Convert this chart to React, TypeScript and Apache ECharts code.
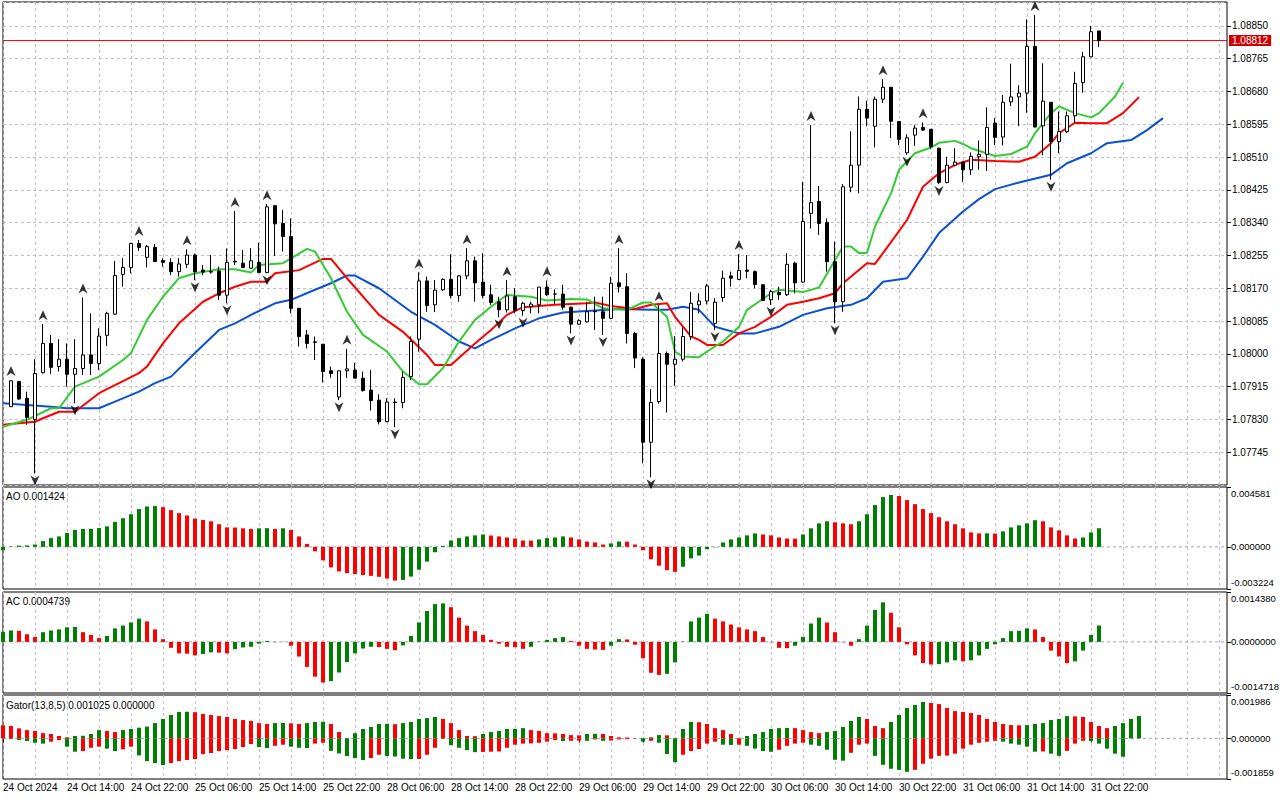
import React, { useEffect, useRef } from 'react';
import * as echarts from 'echarts';

// ---------- categories (hourly bars, weekend skipped) ----------
const DAYS = ['24 Oct', '25 Oct', '28 Oct', '29 Oct', '30 Oct', '31 Oct', '01 Nov'];
const FIRST_HOUR = 6;
const N_CAT = 154;
const LAST_BAR = 137; // 31 Oct 23:00
const FIRST_LABEL = '24 Oct 2024';

// ---------- price candles [open, high, low, close], from 24 Oct 07:00 ----------
const candles: number[][] = [
  [1.07863, 1.07932, 1.07862, 1.07930], [1.07928, 1.07930, 1.07880, 1.07883], [1.07885, 1.07902, 1.07816, 1.07835],
  [1.07830, 1.07986, 1.07690, 1.07949], [1.07951, 1.08077, 1.07949, 1.08027], [1.08027, 1.08049, 1.07948, 1.07965],
  [1.07967, 1.08038, 1.07954, 1.07986], [1.07986, 1.08027, 1.07915, 1.07947], [1.07947, 1.08038, 1.07872, 1.07962],
  [1.07962, 1.08146, 1.07945, 1.07997], [1.07997, 1.08105, 1.07945, 1.07975], [1.07975, 1.08066, 1.07958, 1.08046],
  [1.08048, 1.08109, 1.08020, 1.08105], [1.08103, 1.08241, 1.08101, 1.08203], [1.08206, 1.08248, 1.08174, 1.08224],
  [1.08224, 1.08288, 1.08209, 1.08286], [1.08286, 1.08295, 1.08267, 1.08276], [1.08250, 1.08282, 1.08224, 1.08278],
  [1.08276, 1.08285, 1.08239, 1.08239], [1.08242, 1.08248, 1.08226, 1.08237], [1.08237, 1.08248, 1.08204, 1.08213],
  [1.08213, 1.08248, 1.08200, 1.08233], [1.08232, 1.08271, 1.08222, 1.08256], [1.08256, 1.08260, 1.08191, 1.08213],
  [1.08217, 1.08230, 1.08204, 1.08212], [1.08213, 1.08256, 1.08208, 1.08212], [1.08215, 1.08226, 1.08140, 1.08152],
  [1.08152, 1.08273, 1.08131, 1.08237], [1.08240, 1.08370, 1.08230, 1.08238], [1.08235, 1.08269, 1.08222, 1.08224],
  [1.08222, 1.08274, 1.08220, 1.08241], [1.08237, 1.08288, 1.08209, 1.08211], [1.08211, 1.08388, 1.08209, 1.08381],
  [1.08384, 1.08384, 1.08254, 1.08337], [1.08338, 1.08373, 1.08265, 1.08304], [1.08304, 1.08351, 1.08105, 1.08118],
  [1.08118, 1.08118, 1.08019, 1.08045], [1.08049, 1.08062, 1.08014, 1.08027], [1.08031, 1.08045, 1.07984, 1.08030],
  [1.08025, 1.08025, 1.07926, 1.07954], [1.07956, 1.07967, 1.07938, 1.07949], [1.07888, 1.07956, 1.07880, 1.07956],
  [1.07956, 1.08013, 1.07937, 1.07961], [1.07958, 1.07976, 1.07937, 1.07937], [1.07937, 1.07954, 1.07902, 1.07905],
  [1.07906, 1.07958, 1.07853, 1.07879], [1.07880, 1.07895, 1.07817, 1.07824], [1.07824, 1.07885, 1.07823, 1.07875],
  [1.07875, 1.07885, 1.07810, 1.07874], [1.07874, 1.07954, 1.07859, 1.07939], [1.07941, 1.08045, 1.07932, 1.08032],
  [1.08038, 1.08211, 1.08006, 1.08189], [1.08189, 1.08200, 1.08109, 1.08125], [1.08127, 1.08191, 1.08108, 1.08165],
  [1.08166, 1.08196, 1.08163, 1.08193], [1.08193, 1.08258, 1.08144, 1.08151], [1.08151, 1.08204, 1.08135, 1.08202],
  [1.08202, 1.08274, 1.08193, 1.08241], [1.08241, 1.08252, 1.08135, 1.08184], [1.08186, 1.08261, 1.08144, 1.08151],
  [1.08153, 1.08179, 1.08127, 1.08133], [1.08135, 1.08148, 1.08095, 1.08114], [1.08114, 1.08191, 1.08107, 1.08150],
  [1.08148, 1.08170, 1.08105, 1.08112], [1.08112, 1.08135, 1.08099, 1.08131], [1.08122, 1.08135, 1.08105, 1.08129],
  [1.08127, 1.08173, 1.08105, 1.08173], [1.08173, 1.08190, 1.08150, 1.08153], [1.08155, 1.08167, 1.08129, 1.08155],
  [1.08155, 1.08179, 1.08114, 1.08121], [1.08121, 1.08122, 1.08053, 1.08077], [1.08077, 1.08090, 1.08075, 1.08086],
  [1.08083, 1.08135, 1.08081, 1.08109], [1.08110, 1.08148, 1.08062, 1.08109], [1.08109, 1.08148, 1.08049, 1.08092],
  [1.08092, 1.08200, 1.08090, 1.08183], [1.08184, 1.08274, 1.08159, 1.08174], [1.08174, 1.08209, 1.08027, 1.08053],
  [1.08053, 1.08057, 1.07963, 1.07989], [1.07986, 1.07991, 1.07716, 1.07771], [1.07771, 1.07908, 1.07680, 1.07874],
  [1.07876, 1.08126, 1.07871, 1.08001], [1.08001, 1.08006, 1.07848, 1.07973], [1.07973, 1.08046, 1.07917, 1.07986],
  [1.07986, 1.08070, 1.07980, 1.08045], [1.08045, 1.08160, 1.08036, 1.08131], [1.08127, 1.08157, 1.08105, 1.08137],
  [1.08137, 1.08181, 1.08128, 1.08176], [1.08079, 1.08144, 1.08062, 1.08134], [1.08146, 1.08216, 1.08135, 1.08196],
  [1.08202, 1.08213, 1.08174, 1.08196], [1.08193, 1.08259, 1.08191, 1.08216], [1.08217, 1.08256, 1.08196, 1.08214],
  [1.08213, 1.08216, 1.08170, 1.08180], [1.08179, 1.08181, 1.08138, 1.08138], [1.08140, 1.08166, 1.08127, 1.08161],
  [1.08159, 1.08174, 1.08140, 1.08153], [1.08153, 1.08261, 1.08150, 1.08232], [1.08235, 1.08239, 1.08157, 1.08184],
  [1.08186, 1.08446, 1.08184, 1.08343], [1.08364, 1.08593, 1.08325, 1.08392], [1.08395, 1.08435, 1.08308, 1.08338],
  [1.08341, 1.08351, 1.08213, 1.08239], [1.08239, 1.08291, 1.08079, 1.08135], [1.08135, 1.08440, 1.08109, 1.08433],
  [1.08432, 1.08577, 1.08419, 1.08489], [1.08489, 1.08667, 1.08416, 1.08634], [1.08634, 1.08656, 1.08590, 1.08611],
  [1.08590, 1.08667, 1.08535, 1.08660], [1.08660, 1.08712, 1.08650, 1.08691], [1.08691, 1.08691, 1.08559, 1.08603],
  [1.08602, 1.08602, 1.08541, 1.08556], [1.08521, 1.08569, 1.08516, 1.08560], [1.08567, 1.08593, 1.08539, 1.08585],
  [1.08587, 1.08600, 1.08578, 1.08580], [1.08582, 1.08582, 1.08532, 1.08537], [1.08533, 1.08535, 1.08440, 1.08444],
  [1.08444, 1.08511, 1.08442, 1.08489], [1.08489, 1.08533, 1.08486, 1.08497], [1.08497, 1.08498, 1.08446, 1.08477],
  [1.08477, 1.08522, 1.08464, 1.08512], [1.08511, 1.08553, 1.08477, 1.08517], [1.08517, 1.08639, 1.08474, 1.08587],
  [1.08598, 1.08611, 1.08541, 1.08561], [1.08562, 1.08671, 1.08540, 1.08652], [1.08653, 1.08752, 1.08642, 1.08666],
  [1.08666, 1.08696, 1.08590, 1.08676], [1.08676, 1.08867, 1.08625, 1.08797], [1.08797, 1.08878, 1.08587, 1.08588],
  [1.08591, 1.08753, 1.08515, 1.08655], [1.08652, 1.08652, 1.08451, 1.08550], [1.08550, 1.08628, 1.08520, 1.08576],
  [1.08576, 1.08628, 1.08572, 1.08617], [1.08617, 1.08731, 1.08598, 1.08701], [1.08703, 1.08783, 1.08677, 1.08770],
  [1.08770, 1.08850, 1.08769, 1.08835], [1.08837, 1.08837, 1.08795, 1.08812],
];
const CURRENT_PRICE = 1.08812;

// fractal bars (indices into candles)
const fractalUp = [0, 4, 9, 16, 22, 28, 32, 42, 51, 57, 62, 67, 76, 81, 91, 100, 109, 114, 128];
const fractalDown = [3, 8, 23, 27, 32, 41, 48, 61, 64, 70, 74, 80, 88, 95, 103, 112, 116, 130];

// Alligator lines [category index, price]
const lips = [
  [0, 1.07811], [3, 1.07829], [6, 1.07859], [7, 1.07859], [9, 1.07915], [12, 1.07941], [15, 1.07984], [16, 1.08002],
  [18, 1.08088], [20, 1.08148], [22, 1.08196], [24, 1.08209], [27, 1.08219], [29, 1.08219], [31, 1.08211], [32, 1.08230],
  [35, 1.08235], [38, 1.08272], [39, 1.08265], [41, 1.08196], [43, 1.08109], [45, 1.08049], [48, 1.08006], [50, 1.07954],
  [52, 1.07921], [53, 1.07921], [55, 1.07963], [57, 1.08032], [59, 1.08088], [61, 1.08122], [63, 1.08153], [66, 1.08148],
  [68, 1.08138], [71, 1.08142], [73, 1.08141], [75, 1.08118], [78, 1.08114], [80, 1.08133], [81, 1.08133], [83, 1.08096],
  [84, 1.08006], [85, 1.07993], [87, 1.07991], [88, 1.08006], [90, 1.08032], [92, 1.08070], [93, 1.08114], [96, 1.08157],
  [97, 1.08166], [100, 1.08160], [102, 1.08172], [104, 1.08243], [105, 1.08278], [106, 1.08278], [107, 1.08261], [108, 1.08262],
  [109, 1.08330], [111, 1.08416], [112, 1.08477], [114, 1.08520], [116, 1.08535], [117, 1.08547], [119, 1.08552], [120, 1.08544],
  [121, 1.08533], [124, 1.08513], [126, 1.08518], [128, 1.08537], [129, 1.08572], [131, 1.08624], [132, 1.08641], [134, 1.08624],
  [136, 1.08613], [137, 1.08624], [139, 1.08667], [140, 1.08703],
];
const teeth = [
  [0, 1.07816], [4, 1.07824], [5, 1.07833], [7, 1.07850], [9, 1.07850], [12, 1.07898], [14, 1.07919], [17, 1.07950],
  [18, 1.07967], [20, 1.08027], [22, 1.08079], [25, 1.08135], [27, 1.08157], [29, 1.08174], [31, 1.08187], [33, 1.08187],
  [34, 1.08209], [37, 1.08217], [40, 1.08246], [41, 1.08246], [43, 1.08196], [47, 1.08101], [50, 1.08057], [53, 1.07997],
  [54, 1.07971], [56, 1.07971], [59, 1.08027], [61, 1.08062], [63, 1.08101], [65, 1.08121], [69, 1.08127], [73, 1.08131],
  [74, 1.08133], [76, 1.08124], [79, 1.08116], [81, 1.08127], [83, 1.08131], [84, 1.08096], [86, 1.08045], [87, 1.08036],
  [88, 1.08023], [90, 1.08023], [92, 1.08053], [94, 1.08070], [96, 1.08096], [98, 1.08127], [100, 1.08135], [102, 1.08144],
  [104, 1.08157], [105, 1.08183], [108, 1.08235], [109, 1.08233], [110, 1.08261], [113, 1.08347], [115, 1.08433], [117, 1.08468],
  [119, 1.08490], [121, 1.08503], [124, 1.08500], [127, 1.08498], [129, 1.08511], [131, 1.08546], [132, 1.08572], [134, 1.08599],
  [136, 1.08598], [138, 1.08598], [140, 1.08624], [142, 1.08665],
];
const jaw = [
  [0, 1.07872], [6, 1.07863], [8, 1.07859], [12, 1.07859], [14, 1.07876], [17, 1.07902], [19, 1.07924], [21, 1.07941],
  [24, 1.08002], [27, 1.08062], [29, 1.08079], [31, 1.08101], [34, 1.08131], [36, 1.08140], [39, 1.08166], [41, 1.08183],
  [43, 1.08203], [44, 1.08203], [47, 1.08170], [51, 1.08109], [54, 1.08075], [57, 1.08032], [59, 1.08014], [61, 1.08036],
  [64, 1.08066], [67, 1.08092], [70, 1.08107], [73, 1.08111], [77, 1.08116], [81, 1.08114], [83, 1.08114], [85, 1.08122],
  [87, 1.08114], [89, 1.08070], [92, 1.08053], [94, 1.08053], [97, 1.08070], [100, 1.08101], [103, 1.08118], [106, 1.08127],
  [108, 1.08144], [110, 1.08187], [113, 1.08196], [115, 1.08252], [117, 1.08313], [120, 1.08369], [122, 1.08401], [124, 1.08427],
  [127, 1.08444], [131, 1.08464], [133, 1.08494], [136, 1.08520], [138, 1.08546], [141, 1.08554], [143, 1.08580], [145, 1.08611],
];

// Awesome Oscillator (from category 0)
const ao = [
  -0.00026, 0.00003, 0.0001, 0.00011, 0.00018, 0.00044, 0.00067, 0.0008, 0.00106, 0.00129,
  0.00137, 0.00138, 0.00144, 0.00157, 0.00191, 0.00219, 0.0025, 0.00289, 0.00309, 0.00312,
  0.00304, 0.00281, 0.00258, 0.0024, 0.00216, 0.00206, 0.00196, 0.00173, 0.00149, 0.00148,
  0.00142, 0.00137, 0.00142, 0.00143, 0.00137, 0.00142, 0.00129, 0.0008, 0.00023, -0.00034,
  -0.00103, -0.00157, -0.00188, -0.00201, -0.00209, -0.00216, -0.00222, -0.00229, -0.00242, -0.00258,
  -0.00253, -0.00227, -0.00175, -0.00113, -0.00041, 0.00008, 0.00049, 0.00067, 0.0008, 0.00088,
  0.00095, 0.00087, 0.0008, 0.00072, 0.00064, 0.00049, 0.00048, 0.00057, 0.00067, 0.00072,
  0.0008, 0.00072, 0.00057, 0.00041, 0.00034, 0.00018, 0.00026, 0.00041, 0.0004, 0.00018,
  -0.00026, -0.00095, -0.00144, -0.00178, -0.00191, -0.00152, -0.00088, -0.00067, -0.00018, -0.00003,
  0.00034, 0.00057, 0.00072, 0.00088, 0.00103, 0.00095, 0.00088, 0.00072, 0.00064, 0.00063,
  0.00095, 0.00142, 0.0018, 0.00196, 0.00188, 0.0018, 0.00173, 0.00196, 0.0025, 0.0032,
  0.00381, 0.00397, 0.00389, 0.00358, 0.00327, 0.00289, 0.00258, 0.00227, 0.00196, 0.00173,
  0.00142, 0.00111, 0.00103, 0.00104, 0.00102, 0.00119, 0.00149, 0.00165, 0.0018, 0.00204,
  0.00196, 0.00149, 0.00126, 0.00088, 0.00064, 0.00072, 0.00111, 0.001424,
];

// Accelerator Oscillator (from category 0)
const ac = [
  0.00029, 0.00033, 0.00032, 0.00022, 0.00014, 0.00028, 0.00033, 0.00036, 0.00042, 0.00043,
  0.00028, 0.0002, 0.00011, 0.00017, 0.00039, 0.00047, 0.00056, 0.00067, 0.00059, 0.00036,
  0.00008, -0.00017, -0.00033, -0.00034, -0.00039, -0.00035, -0.0003, -0.00031, -0.00033, -0.00021,
  -0.00016, -0.00014, -0.00005, 0.00003, -0.00001, 0.000005, -0.00011, -0.00042, -0.00072, -0.001,
  -0.00117, -0.00113, -0.00088, -0.00058, -0.00033, -0.00019, -0.00014, -0.00015, -0.0002, -0.00024,
  -0.0001, 0.00017, 0.00056, 0.00089, 0.00109, 0.00111, 0.001, 0.0007, 0.00047, 0.00031,
  0.0002, 0.00006, -0.00005, -0.00014, -0.00015, -0.0002, -0.00014, 0.00001, 0.00006, 0.00011,
  0.00014, 0.00003, -0.00011, -0.0002, -0.00022, -0.00023, -0.00011, 0.00008, 0.00007, -0.00008,
  -0.00047, -0.00089, -0.00095, -0.00092, -0.00059, 0.00001, 0.00059, 0.0007, 0.00081, 0.00067,
  0.00059, 0.0005, 0.00042, 0.00036, 0.00031, 0.00014, -0.00001, -0.00017, -0.00018, -0.00011,
  0.00014, 0.00053, 0.0007, 0.00056, 0.00028, -0.00001, -0.00011, 0.00008, 0.00047, 0.00092,
  0.00114, 0.00084, 0.00042, -0.00007, -0.00039, -0.00061, -0.00065, -0.00064, -0.00059, -0.00053,
  -0.00056, -0.00053, -0.00039, -0.0002, -0.00007, 0.00011, 0.00031, 0.00032, 0.00039, 0.00036,
  0.00014, -0.00025, -0.00042, -0.00061, -0.00056, -0.00025, 0.0002, 0.0004739,
];

// Gator oscillator (from category 0)
const gatorUp = [
  0.0006, 0.00057, 0.00046, 0.00038, 0.00034, 0.00024, 0.0002, 0.00011, 0.00005, 0.00011,
  0.00012, 0.0002, 0.00038, 0.00034, 0.00029, 0.00038, 0.00043, 0.00049, 0.00054, 0.0007,
  0.00089, 0.00107, 0.00121, 0.00122, 0.0012, 0.00112, 0.00107, 0.00102, 0.00098, 0.00089,
  0.00084, 0.0008, 0.0007, 0.00066, 0.0007, 0.00071, 0.00069, 0.00066, 0.0007, 0.00075,
  0.00076, 0.00066, 0.00029, 0.00001, 0.00024, 0.00043, 0.00052, 0.00066, 0.00067, 0.00065,
  0.0007, 0.00075, 0.00089, 0.00093, 0.00098, 0.00089, 0.0007, 0.00038, 0.00011, 0.0001,
  0.0002, 0.00029, 0.00034, 0.00043, 0.00044, 0.00047, 0.00038, 0.00034, 0.00024, 0.00023,
  0.0002, 0.00015, 0.00014, 0.0002, 0.00021, 0.0002, 0.00011, 0.00005, 0.00004, 0.00001,
  0.00002, 0.00005, 0.00015, 0.00014, 0.00002, 0.00043, 0.00075, 0.00074, 0.00066, 0.00047,
  0.00038, 0.0002, 0.00001, 0.00011, 0.0002, 0.00029, 0.00043, 0.00047, 0.00048, 0.00047,
  0.00038, 0.00029, 0.00024, 0.00029, 0.00034, 0.00052, 0.0008, 0.00098, 0.00089, 0.00057,
  0.00047, 0.00075, 0.00107, 0.00139, 0.00153, 0.00167, 0.00162, 0.00157, 0.00139, 0.00125,
  0.00121, 0.00116, 0.00107, 0.00089, 0.00075, 0.00066, 0.00061, 0.0006, 0.00061, 0.00066,
  0.0007, 0.00084, 0.00089, 0.00102, 0.00101, 0.00098, 0.00075, 0.00057, 0.00047, 0.00057,
  0.0007, 0.00089, 0.001025,
];
const gatorDown = [
  0, -0.00003, -0.00008, -0.00012, -0.0002, -0.00024, -0.00015, -0.00008, -0.00038, -0.00061,
  -0.00058, -0.00043, -0.00038, -0.00047, -0.00058, -0.0005, -0.00038, -0.00078, -0.00104, -0.00113,
  -0.00122, -0.00113, -0.00104, -0.00099, -0.00095, -0.00072, -0.00067, -0.00058, -0.00054, -0.00049,
  -0.0004, -0.00026, -0.0004, -0.00044, -0.00034, -0.00029, -0.00038, -0.00043, -0.00044, -0.00024,
  -0.0002, -0.00057, -0.00069, -0.00081, -0.0009, -0.00099, -0.0009, -0.00075, -0.00081, -0.00083,
  -0.00093, -0.00095, -0.00094, -0.00075, -0.00043, -0.00002, -0.00031, -0.00043, -0.00054, -0.00063,
  -0.00062, -0.00061, -0.0006, -0.00043, -0.00029, -0.00024, -0.00023, -0.0002, -0.00015, -0.00008,
  -0.00012, -0.00011, -0.0001, -0.00011, -0.00005, -0.00011, -0.0001, -0.00005, -0.00004, -0.00001,
  -0.00015, -0.00011, -0.0002, -0.00072, -0.00109, -0.00075, -0.00058, -0.00049, -0.00024, -0.00015,
  -0.00029, -0.0003, -0.00029, -0.00034, -0.00047, -0.00058, -0.00061, -0.00052, -0.00034, -0.00024,
  -0.0002, -0.00029, -0.00034, -0.00052, -0.00098, -0.00102, -0.00066, -0.00029, -0.00024, -0.0008,
  -0.00121, -0.00139, -0.00144, -0.00153, -0.00144, -0.00116, -0.00093, -0.0008, -0.00079, -0.0007,
  -0.00047, -0.00029, -0.0002, -0.00015, -0.00011, -0.00015, -0.00024, -0.00029, -0.00038, -0.00061,
  -0.0006, -0.0007, -0.0008, -0.00057, -0.00024, -0.00011, -0.00012, -0.00024, -0.00047, -0.0007,
  -0.00084,
];

// axis ranges and tick labels
const PRICE_MIN = 1.0766;
const PRICE_MAX = 1.08912;
const PRICE_STEP = 0.00085;
const AO_RANGE = [-0.003224, 0.004581];
const AO_TICK_LABELS = ['-0.003224', '0.000000', '0.004581'];
const AC_RANGE = [-0.0014718, 0.001438];
const AC_TICK_LABELS = ['-0.0014718', '0.0000000', '0.0014380'];
const GATOR_RANGE = [-0.001859, 0.001986];
const GATOR_TICK_LABELS = ['-0.001859', '0.000000', '0.001986'];
const AO_TITLE = 'AO 0.001424';
const AC_TITLE = 'AC 0.0004739';
const GATOR_TITLE = 'Gator(13,8,5) 0.001025 0.000000';

// ---------- styles ----------
const FONT = "'Liberation Sans', Arial, sans-serif";
const FS = 10;
const FS_SUB = 9.5;
const GREEN = '#008000';
const RED = '#ff0000';
const GRID_LINE = { color: '#c2bccb', type: [3, 3] as number[], width: 1 };
const LEFT = 3;
const WIDTH = 1224;
const PANES = [
  { top: 2, height: 483 },
  { top: 487, height: 102 },
  { top: 592, height: 101 },
  { top: 695, height: 84 },
];

function buildCategories(): string[] {
  const out: string[] = [];
  DAYS.forEach((d, di) => {
    for (let h = di === 0 ? FIRST_HOUR : 0; h < 24; h++) {
      out.push(`${d} ${String(h).padStart(2, '0')}:00`);
    }
  });
  return out.slice(0, N_CAT);
}

function buildOption() {
  const categories = buildCategories();
  const labelInterval = (i: number) => i % 8 === 0 && i <= LAST_BAR;

  const xAxes = PANES.map((_, gi) => ({
    type: 'category',
    gridIndex: gi,
    data: categories,
    boundaryGap: false,
    axisLine: { show: false },
    axisTick: { show: gi === 3, length: 4, interval: labelInterval, lineStyle: { color: '#000' } },
    axisLabel: {
      show: gi === 3,
      interval: labelInterval,
      align: 'left',
      margin: 3,
      color: '#000',
      fontSize: FS,
      fontFamily: FONT,
      formatter: (v: string, i: number) => (i === 0 ? FIRST_LABEL : v),
    },
    splitLine: { show: true, interval: (i: number) => i % 4 === 0, lineStyle: GRID_LINE },
  }));

  const subAxis = (gi: number, range: number[], texts: string[], inset: number) => ({
    type: 'value',
    gridIndex: gi,
    position: 'right',
    min: range[0],
    max: range[1],
    axisLine: { show: false },
    splitLine: { show: false },
    axisTick: { show: true, length: 4, lineStyle: { color: '#000' }, customValues: [range[0], 0, range[1]] },
    axisLabel: {
      show: true,
      customValues: [range[0] + inset, 0, range[1] - inset],
      formatter: (v: number) => (v > inset / 4 ? texts[2] : v < -inset / 4 ? texts[0] : texts[1]),
      color: '#000',
      fontSize: FS_SUB,
      fontFamily: FONT,
      margin: 4,
    },
  });

  const yAxes = [
    {
      type: 'value',
      gridIndex: 0,
      position: 'right',
      min: PRICE_MIN,
      max: PRICE_MAX,
      interval: PRICE_STEP,
      axisLine: { show: false },
      axisTick: { show: true, length: 4, lineStyle: { color: '#000' } },
      axisLabel: {
        show: true,
        showMinLabel: false,
        showMaxLabel: false,
        formatter: (v: number) => v.toFixed(5),
        color: '#000',
        fontSize: FS,
        fontFamily: FONT,
        margin: 5,
      },
      splitLine: { show: true, lineStyle: GRID_LINE },
    },
    subAxis(1, AO_RANGE, AO_TICK_LABELS, 0.00046),
    subAxis(2, AC_RANGE, AC_TICK_LABELS, 0.000175),
    subAxis(3, GATOR_RANGE, GATOR_TICK_LABELS, 0.000275),
  ];

  const grids = PANES.map((p) => ({
    left: LEFT,
    top: p.top,
    width: WIDTH,
    height: p.height,
    show: true,
    borderColor: '#000',
    borderWidth: 1,
    backgroundColor: 'transparent',
    containLabel: false,
    outerBoundsMode: 'none',
  }));

  const candleData = candles.map((c, i) => [i + 1, c[0], c[3], c[2], c[1]]);

  const lineSeries = (name: string, data: number[][], color: string) => ({
    name,
    type: 'line',
    xAxisIndex: 0,
    yAxisIndex: 0,
    data,
    showSymbol: false,
    symbol: 'none',
    silent: true,
    lineStyle: { color, width: 2 },
    z: 3,
  });

  // horizontal level drawn as a 2-point line across a pane
  const levelLine = (name: string, gi: number, value: number, style: any, z: number, extra: any = {}) => ({
    name,
    type: 'line',
    xAxisIndex: gi,
    yAxisIndex: gi,
    data: [
      [0, value],
      [N_CAT - 1, value],
    ],
    showSymbol: false,
    symbol: 'none',
    silent: true,
    clip: false,
    lineStyle: style,
    z,
    ...extra,
  });

  const upShape = 'path://M5,0 L10,10 L5,7 L0,10 Z';
  const downShape = 'path://M0,0 L5,3 L10,0 L5,10 Z';
  const zeroStyle = { color: '#9aa8b4', type: [3, 3], width: 1 };

  const colorByChange = (arr: number[]) =>
    arr.map((v, j) => ({ value: v, itemStyle: { color: j === 0 || v > arr[j - 1] ? GREEN : RED } }));
  const colorByMagnitude = (arr: number[], firstColor: string) =>
    arr.map((v, j) => ({
      value: v,
      itemStyle: { color: j === 0 ? firstColor : Math.abs(v) > Math.abs(arr[j - 1]) ? GREEN : RED },
    }));

  const titleText = (text: string, y: number) => ({
    type: 'text',
    x: 6,
    y,
    silent: true,
    style: { text, fill: '#000', fontSize: FS, fontFamily: FONT, verticalAlign: 'middle' },
  });

  return {
    animation: false,
    backgroundColor: '#ffffff',
    textStyle: { fontFamily: FONT },
    grid: grids,
    xAxis: xAxes,
    yAxis: yAxes,
    graphic: [titleText(AO_TITLE, 496), titleText(AC_TITLE, 601), titleText(GATOR_TITLE, 705)],
    series: [
      levelLine('Bid', 0, CURRENT_PRICE, { color: '#e00000', width: 1, type: 'solid' }, 2, {
        endLabel: {
          show: true,
          formatter: CURRENT_PRICE.toFixed(5),
          color: '#ffffff',
          backgroundColor: '#d40000',
          padding: [1, 3, 0, 3],
          distance: 2,
          fontSize: FS,
          fontFamily: FONT,
        },
      }),
      lineSeries('Jaw', jaw, '#0a4fd6'),
      lineSeries('Teeth', teeth, '#ff0000'),
      lineSeries('Lips', lips, '#32cd32'),
      {
        name: 'EURUSD',
        type: 'candlestick',
        xAxisIndex: 0,
        yAxisIndex: 0,
        data: candleData,
        encode: { x: 0, y: [1, 2, 3, 4] },
        barWidth: 4,
        z: 4,
        silent: true,
        itemStyle: { color: '#ffffff', color0: '#000000', borderColor: '#000000', borderColor0: '#000000', borderWidth: 1 },
      },
      {
        name: 'Fractals up',
        type: 'scatter',
        xAxisIndex: 0,
        yAxisIndex: 0,
        data: fractalUp.map((i) => [i + 1, candles[i][1]]),
        symbol: upShape,
        symbolSize: [9, 10],
        symbolOffset: [0, -9],
        itemStyle: { color: '#000000' },
        silent: true,
        z: 5,
      },
      {
        name: 'Fractals down',
        type: 'scatter',
        xAxisIndex: 0,
        yAxisIndex: 0,
        data: fractalDown.map((i) => [i + 1, candles[i][2]]),
        symbol: downShape,
        symbolSize: [9, 10],
        symbolOffset: [0, 7],
        itemStyle: { color: '#000000' },
        silent: true,
        z: 5,
      },
      levelLine('AO zero', 1, 0, zeroStyle, 1),
      {
        name: 'AO',
        type: 'bar',
        xAxisIndex: 1,
        yAxisIndex: 1,
        data: colorByChange(ao),
        barWidth: 4,
        silent: true,
        z: 2,
      },
      levelLine('AC zero', 2, 0, zeroStyle, 1),
      {
        name: 'AC',
        type: 'bar',
        xAxisIndex: 2,
        yAxisIndex: 2,
        data: colorByChange(ac),
        barWidth: 4,
        silent: true,
        z: 2,
      },
      levelLine('Gator zero', 3, 0, zeroStyle, 1),
      {
        name: 'Gator up',
        type: 'bar',
        xAxisIndex: 3,
        yAxisIndex: 3,
        stack: 'gator',
        data: colorByMagnitude(gatorUp, RED),
        barWidth: 4,
        silent: true,
        z: 2,
      },
      {
        name: 'Gator down',
        type: 'bar',
        xAxisIndex: 3,
        yAxisIndex: 3,
        stack: 'gator',
        data: colorByMagnitude(gatorDown, GREEN),
        barWidth: 4,
        silent: true,
        z: 2,
      },
    ],
  };
}

export default function App() {
  const ref = useRef<HTMLDivElement>(null);
  useEffect(() => {
    document.body.style.margin = '0';
    if (!ref.current) return;
    const chart = echarts.init(ref.current, undefined, { renderer: 'svg' });
    chart.setOption(buildOption() as any);
    return () => chart.dispose();
  }, []);
  return <div ref={ref} style={{ width: 1280, height: 800, background: '#fff' }} />;
}
